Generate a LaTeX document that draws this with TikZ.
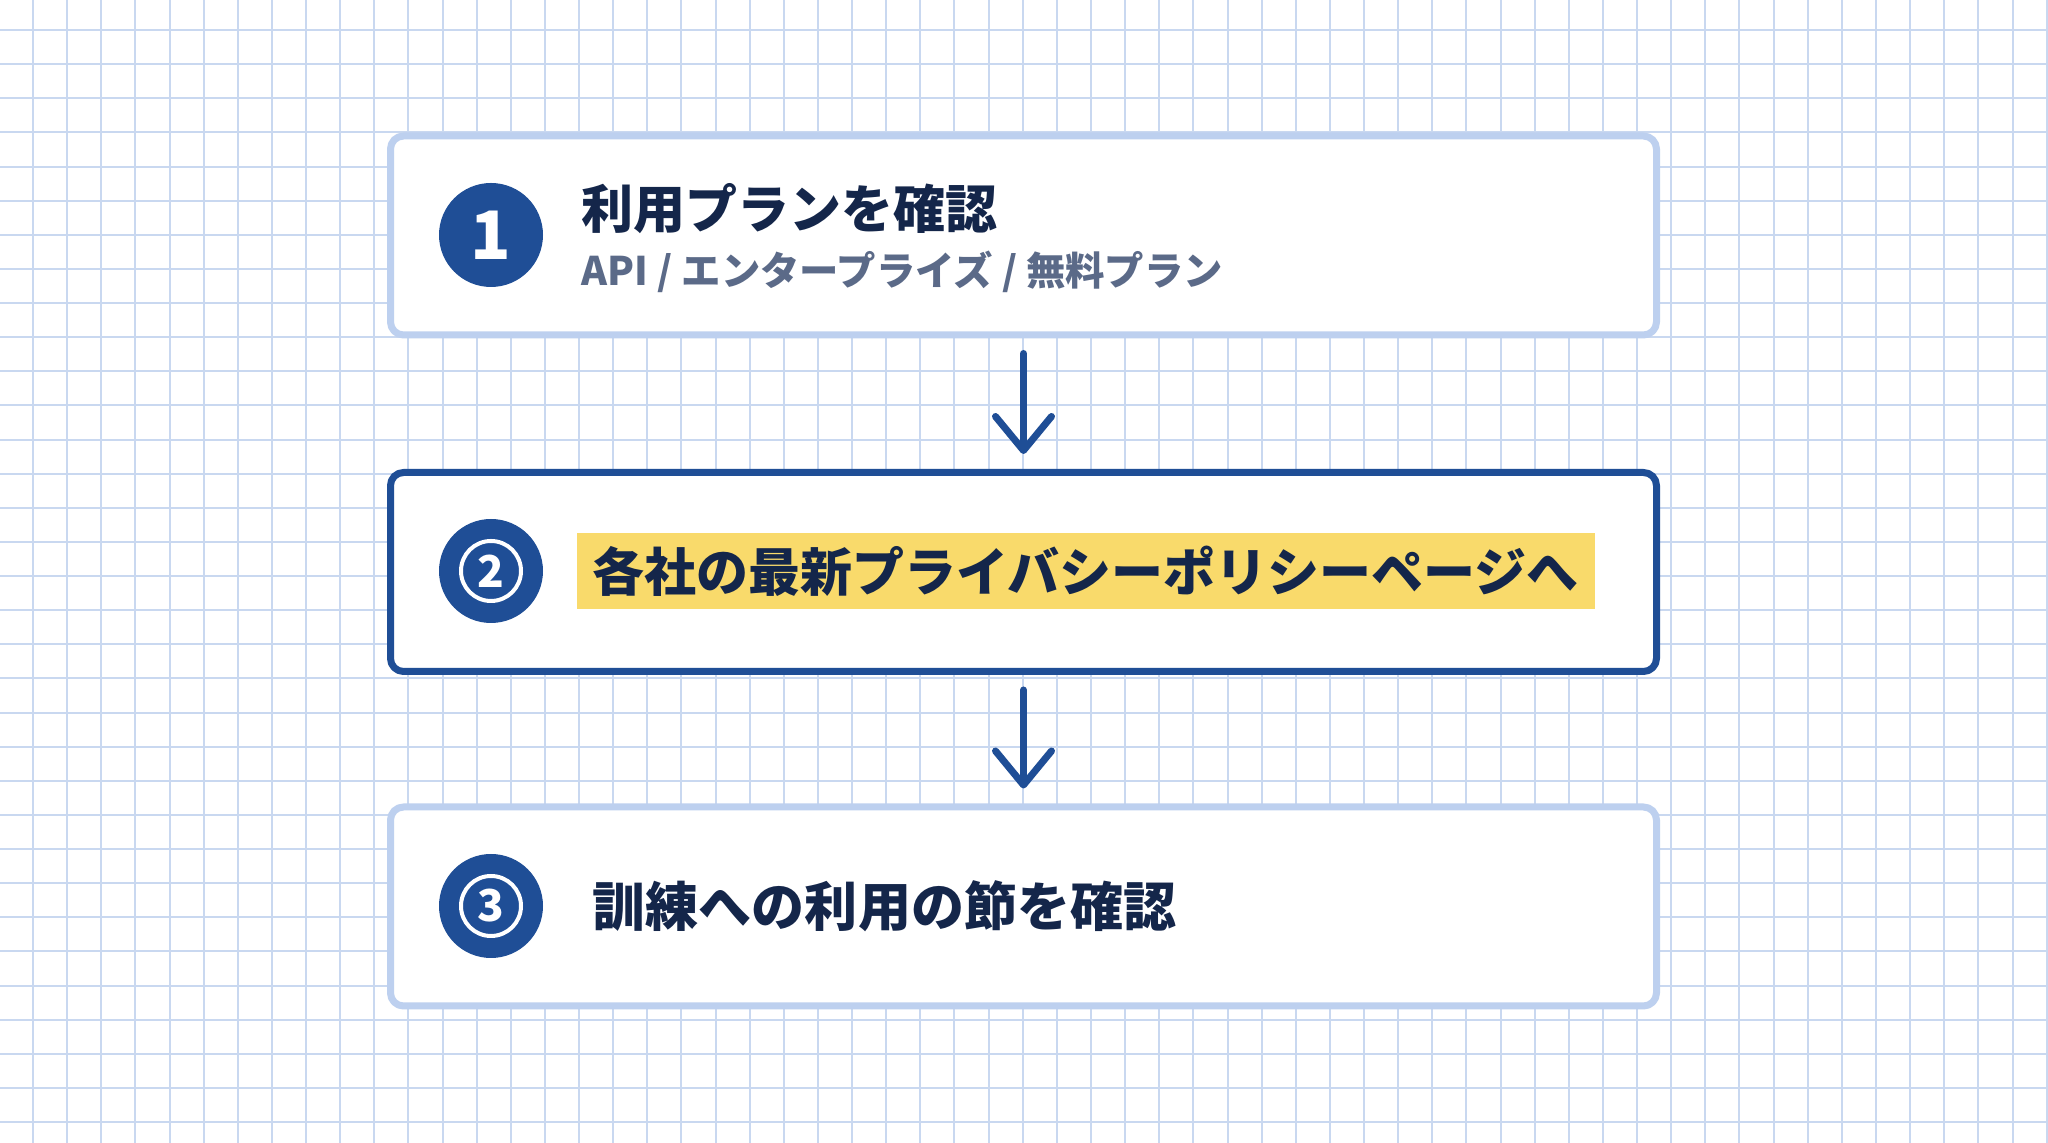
\documentclass[tikz,border=0pt]{standalone}
\usepackage{fontspec}
\newfontfamily\jp{Noto Sans CJK JP}
\usetikzlibrary{arrows.meta,positioning}

\definecolor{gridblue}{HTML}{C9D8F0}
\definecolor{paleframe}{HTML}{BDD0EF}
\definecolor{stepnavy}{HTML}{1F4E96}
\definecolor{inknavy}{HTML}{14264A}
\definecolor{subgray}{HTML}{5B6A88}
\definecolor{markyellow}{HTML}{F9DA6B}

\begin{document}
\begin{tikzpicture}[>=Latex,line join=round,line cap=round,
  stepbox/.style={draw=#1,line width=0.07cm,fill=white,rounded corners=0.13cm,
                  minimum width=12.66cm,minimum height=1.99cm,inner sep=0pt},
  numdot/.style={circle,fill=stepnavy,minimum size=1.04cm,inner sep=0pt,
                 text=white,font=\jp\bfseries\fontsize{19pt}{19pt}\selectfont},
  numring/.style={numdot,font=\jp\bfseries\fontsize{12.5pt}{12.5pt}\selectfont,
                  path picture={\draw[white,line width=0.04cm]
                    (path picture bounding box.center) circle (0.30cm);}},
  titletext/.style={anchor=west,inner sep=0pt,text=inknavy,
                    font=\jp\bfseries\fontsize{14.8pt}{16pt}\selectfont},
  subtext/.style={anchor=west,inner sep=0pt,text=subgray,
                  font=\jp\bfseries\fontsize{11.2pt}{12pt}\selectfont},
  markbox/.style={titletext,fill=markyellow,inner xsep=0.16cm,
                  minimum height=0.76cm},
  flowarrow/.style={stepnavy,line width=0.07cm,shorten <=0.15cm,shorten >=0.15cm,
                    -{Straight Barb[length=3.4mm,width=5.6mm,round]}}]

  \useasboundingbox (0,0) rectangle (20.48,11.43);
  \fill[white] (0,0) rectangle (20.48,11.43);

  % ---- squared paper background ------------------------------------------
  \foreach \k in {0,...,59}{
     \pgfmathsetmacro\gx{0.33+0.3413*\k}
     \draw[gridblue,line width=0.02cm] (\gx,0) -- (\gx,11.43);
  }
  \foreach \k in {0,...,32}{
     \pgfmathsetmacro\gy{11.13-0.3413*\k}
     \draw[gridblue,line width=0.02cm] (0,\gy) -- (20.48,\gy);
  }

  % ---- the three step cards ----------------------------------------------
  \node[stepbox=paleframe] (card1) at (10.235,9.075) {};
  \node[stepbox=stepnavy]  (card2) at (10.235,5.71) {};
  \node[stepbox=paleframe] (card3) at (10.235,2.365) {};

  % ---- step 1: plan check ------------------------------------------------
  \node[numdot] (num1) at (4.91,9.08) {1};
  \node[titletext] (title1) at (5.81,9.34) {利用プランを確認};
  \node[subtext] (sub1) at (5.81,8.71) {API / エンタープライズ / 無料プラン};

  % ---- step 2: policy page (highlighted) ---------------------------------
  \node[numring] (num2) at (4.91,5.72) {2};
  \node[markbox] (title2) at (5.76,5.72) {各社の最新プライバシーポリシーページへ};

  % ---- step 3: training clause -------------------------------------------
  \node[numring] (num3) at (4.91,2.37) {3};
  \node[titletext,font=\jp\bfseries\fontsize{15.1pt}{16pt}\selectfont]
       (title3) at (5.92,2.37) {訓練への利用の節を確認};

  % ---- flow arrows -------------------------------------------------------
  \draw[flowarrow] (card1) -- (card2);
  \draw[flowarrow] (card2) -- (card3);

\end{tikzpicture}
\end{document}
